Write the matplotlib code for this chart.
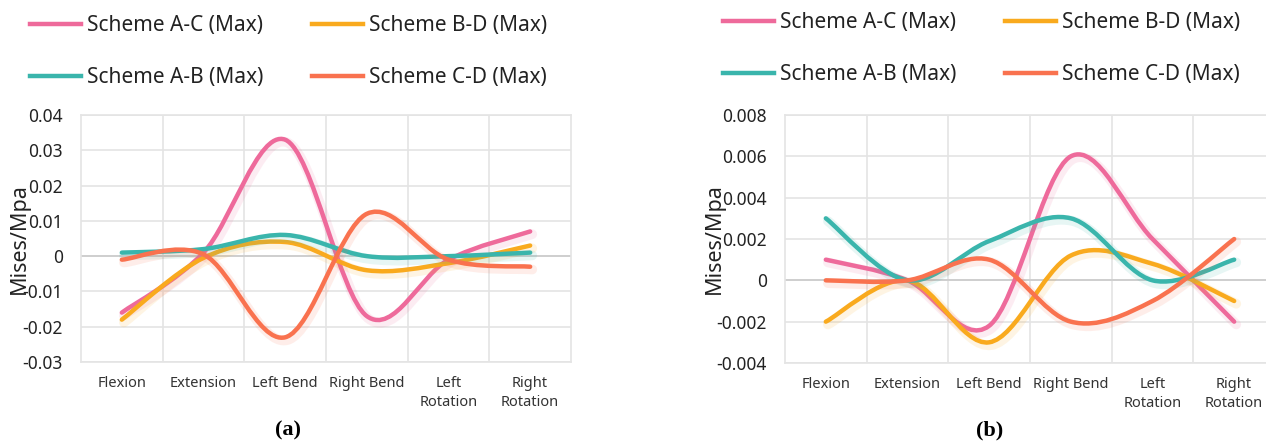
import matplotlib
matplotlib.use("Agg")
import matplotlib.pyplot as plt
import matplotlib.patheffects as pe
from matplotlib.path import Path
from matplotlib.patches import PathPatch
from matplotlib.lines import Line2D

plt.rcParams["font.family"] = ["Noto Sans", "DejaVu Sans"]

categories = ["Flexion", "Extension", "Left Bend", "Right Bend", "Left\nRotation", "Right\nRotation"]
series_names = ["Scheme A-C (Max)", "Scheme B-D (Max)", "Scheme A-B (Max)", "Scheme C-D (Max)"]
colors = ["#EE6A9B", "#F9AA1E", "#3AB5AC", "#F9724F"]

# panel (a)
a_ac = [-0.016, 0.001, 0.033, -0.017, -0.001, 0.007]
a_bd = [-0.018, -0.0005, 0.004, -0.004, -0.002, 0.003]
a_ab = [0.001, 0.002, 0.006, 0.0, 0.0, 0.001]
a_cd = [-0.001, 0.0005, -0.023, 0.012, -0.001, -0.003]
a_ticks = [-0.03, -0.02, -0.01, 0, 0.01, 0.02, 0.03, 0.04]
a_labels = ["-0.03", "-0.02", "-0.01", "0", "0.01", "0.02", "0.03", "0.04"]

# panel (b)
b_ac = [0.001, 0.0, -0.0022, 0.006, 0.002, -0.002]
b_bd = [-0.002, 0.0, -0.003, 0.0012, 0.0008, -0.001]
b_ab = [0.003, 0.0, 0.0019, 0.003, 0.0, 0.001]
b_cd = [0.0, 0.0, 0.001, -0.002, -0.001, 0.002]
b_ticks = [-0.004, -0.002, 0, 0.002, 0.004, 0.006, 0.008]
b_labels = ["-0.004", "-0.002", "0", "0.002", "0.004", "0.006", "0.008"]


def smooth_path(ys):
    # Excel-style smoothed line: cubic bezier through every point
    pts = [(i, y) for i, y in enumerate(ys)]
    verts = [pts[0]]
    codes = [Path.MOVETO]
    for i in range(len(pts) - 1):
        p0 = pts[i - 1] if i > 0 else pts[i]
        p1 = pts[i]
        p2 = pts[i + 1]
        p3 = pts[i + 2] if i + 2 < len(pts) else pts[i + 1]
        c1 = (p1[0] + (p2[0] - p0[0]) / 6, p1[1] + (p2[1] - p0[1]) / 6)
        c2 = (p2[0] - (p3[0] - p1[0]) / 6, p2[1] - (p3[1] - p1[1]) / 6)
        verts += [c1, c2, p2]
        codes += [Path.CURVE4] * 3
    return Path(verts, codes)


def draw_panel(ax, data, ticks, labels):
    n = len(categories)
    ax.set_xlim(-0.5, n - 0.5)
    ax.set_ylim(ticks[0], ticks[-1])
    ax.set_xticks(range(n))
    ax.set_xticklabels(categories, fontsize=10.5, color="#333333", linespacing=1.35)
    ax.set_xticks([i + 0.5 for i in range(n - 1)], minor=True)
    ax.set_yticks(ticks)
    ax.set_yticklabels(labels, fontsize=12.5, color="#222222")
    ax.tick_params(axis="both", which="both", length=0)
    ax.tick_params(axis="y", pad=13)
    ax.tick_params(axis="x", pad=10)
    ax.grid(True, axis="y", which="major", color="#E4E4E4", lw=1.2)
    ax.grid(True, axis="x", which="minor", color="#E4E4E4", lw=1.2)
    ax.axhline(0, color="#CFCFCF", lw=1.4, zorder=1)
    for s in ax.spines.values():
        s.set_color("#E4E4E4")
        s.set_linewidth(1.2)
    ax.set_axisbelow(True)
    for ys, c in zip(data, colors):
        patch = PathPatch(smooth_path(ys), facecolor="none", edgecolor=c, lw=3.2,
                          capstyle="round", joinstyle="round", zorder=3)
        patch.set_path_effects([
            pe.Stroke(offset=(1.5, -2), linewidth=7, foreground=c, alpha=0.12),
            pe.Normal(),
        ])
        ax.add_patch(patch)
    ax.set_ylabel("Mises/Mpa", fontsize=15.5, color="#222222")


fig = plt.figure(figsize=(12.66, 4.46), dpi=100)
ax1 = fig.add_axes([81 / 1266, 84 / 446, 490 / 1266, 247 / 446])
ax2 = fig.add_axes([785 / 1266, 83 / 446, 490 / 1266, 248 / 446])

draw_panel(ax1, [a_ac, a_bd, a_ab, a_cd], a_ticks, a_labels)
draw_panel(ax2, [b_ac, b_bd, b_ab, b_cd], b_ticks, b_labels)
ax1.yaxis.set_label_coords(-0.104, 0.5)
ax2.yaxis.set_label_coords(-0.122, 0.5)

# legend filled column by column: A-C / A-B, then B-D / C-D
order = [0, 2, 1, 3]
handles = [Line2D([], [], color=colors[i], lw=3.2) for i in order]
names = [series_names[i] for i in order]
for x0, y0 in [(30, 15), (723, 12)]:
    fig.legend(handles, names, ncol=2, loc="upper left",
               bbox_to_anchor=(x0 / 1266, 1 - y0 / 446), frameon=False,
               fontsize=15, handlelength=2.45, handletextpad=0.3,
               columnspacing=2.3, labelspacing=1.5, borderpad=0, borderaxespad=0,
               labelcolor="#222222")

fig.text(288 / 1266, 1 - 430 / 446, "(a)", ha="center", va="center",
         family=["Liberation Serif", "DejaVu Serif"], fontweight="bold", fontsize=16)
fig.text(990 / 1266, 1 - 430 / 446, "(b)", ha="center", va="center",
         family=["Liberation Serif", "DejaVu Serif"], fontweight="bold", fontsize=16)

fig.savefig("out.png", dpi=100)
